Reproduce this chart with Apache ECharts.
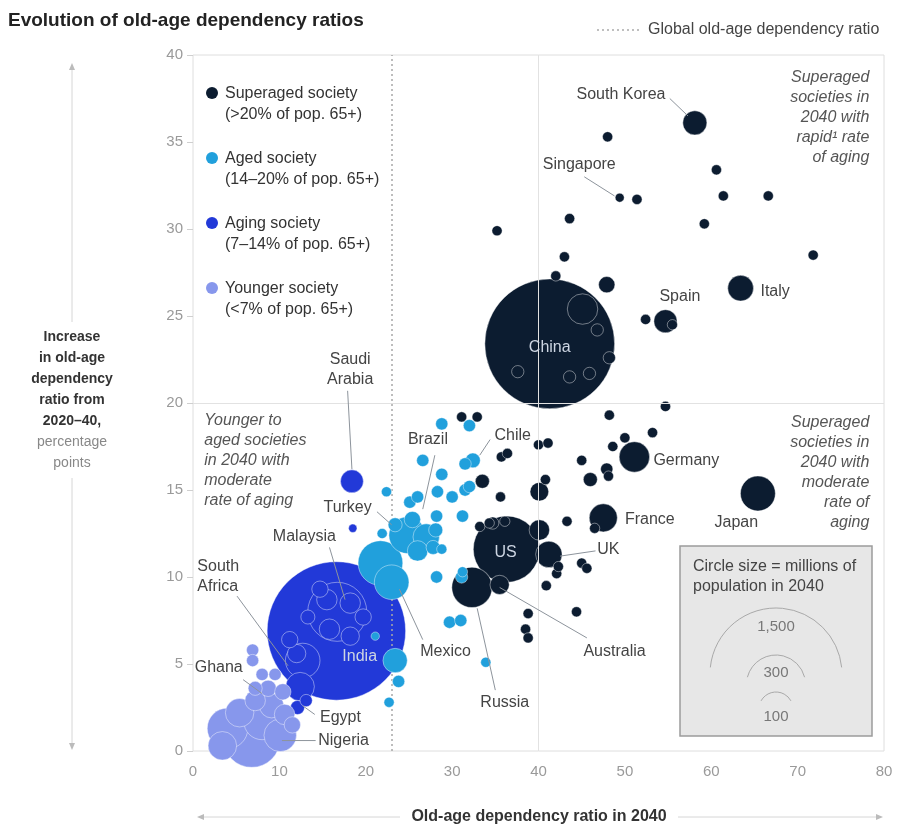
<!DOCTYPE html>
<html>
<head>
<meta charset="utf-8">
<script src="https://cdn.jsdelivr.net/npm/echarts@6/dist/echarts.min.js"></script>
<style>
  html, body { margin: 0; padding: 0; background: #ffffff; }
  #chart { width: 899px; height: 826px; }
</style>
</head>
<body>
<div id="chart"></div>
<script>
// Axis ticks
const xTicks = [0, 10, 20, 30, 40, 50, 60, 70, 80];
const yTicks = [0, 5, 10, 15, 20, 25, 30, 35, 40];
const globalRatio = 23;

// [old-age dependency ratio 2040, increase 2020-40 (pp), population 2040 (m), name]
const superaged = [
  [58.1, 36.1, 50, 'South Korea'], [48.0, 35.3, 9], [60.6, 33.4, 9], [49.4, 31.8, 7, 'Singapore'],
  [51.4, 31.7, 9], [61.4, 31.9, 9], [66.6, 31.9, 9], [35.2, 29.9, 9], [43.6, 30.6, 9],
  [59.2, 30.3, 9], [43.0, 28.4, 9], [71.8, 28.5, 9], [42.0, 27.3, 9], [47.9, 26.8, 23],
  [63.4, 26.6, 57, 'Italy'], [54.7, 24.7, 46, 'Spain'], [52.4, 24.8, 9], [55.5, 24.5, 9],
  [41.3, 23.4, 1450, 'China'], [45.1, 25.4, 80], [46.8, 24.2, 13], [48.2, 22.6, 13],
  [37.6, 21.8, 13], [43.6, 21.5, 13], [45.9, 21.7, 13],
  [54.7, 19.8, 9], [48.2, 19.3, 9], [53.2, 18.3, 9], [50.0, 18.0, 9], [48.6, 17.5, 9],
  [51.1, 16.9, 80, 'Germany'], [45.0, 16.7, 9], [47.9, 16.2, 13], [48.1, 15.8, 9], [46.0, 15.6, 17],
  [47.5, 13.4, 68, 'France'], [46.5, 12.8, 9], [43.3, 13.2, 9], [45.0, 10.8, 9], [45.6, 10.5, 9],
  [44.4, 8.0, 9], [38.8, 7.9, 9], [38.5, 7.0, 9], [38.8, 6.5, 9], [40.9, 9.5, 9],
  [42.1, 10.2, 9], [42.3, 10.6, 9], [41.2, 11.3, 60, 'UK'], [36.3, 11.6, 380, 'US'],
  [32.3, 9.4, 140, 'Russia'], [35.5, 9.55, 32, 'Australia'], [40.1, 12.7, 36],
  [33.2, 12.9, 9], [34.3, 13.1, 9], [35.6, 14.6, 9], [33.5, 15.5, 17], [35.7, 16.9, 9],
  [36.4, 17.1, 9], [31.1, 19.2, 9], [32.9, 19.2, 9], [40.0, 17.6, 9], [41.1, 17.7, 9],
  [40.1, 14.9, 30], [40.8, 15.6, 9], [65.4, 14.8, 105, 'Japan'], [34.7, 13.1, 13], [36.1, 13.2, 9]
];

const aged = [
  [28.8, 18.8, 13], [32.0, 18.7, 13], [26.6, 16.7, 13], [32.4, 16.7, 19, 'Chile'], [31.5, 16.5, 13],
  [28.8, 15.9, 13], [28.3, 14.9, 13], [30.0, 14.6, 13], [31.5, 15.0, 13], [32.0, 15.2, 13],
  [22.4, 14.9, 9], [25.1, 14.3, 13], [26.0, 14.6, 13], [28.2, 13.5, 13], [31.2, 13.5, 13],
  [21.9, 12.5, 9], [28.8, 11.6, 9],
  [21.7, 10.8, 172], [24.8, 12.4, 115, 'Brazil'], [27.0, 12.3, 60, 'Turkey'], [23.0, 9.7, 103, 'Mexico'],
  [26.0, 11.5, 36], [27.8, 11.7, 17], [28.1, 12.7, 17], [25.4, 13.3, 23], [23.4, 13.0, 17],
  [28.2, 10.0, 13], [31.1, 10.0, 13], [29.7, 7.4, 13], [31.0, 7.5, 13], [33.9, 5.1, 9],
  [23.4, 5.2, 51], [23.8, 4.0, 13], [22.7, 2.8, 9], [21.1, 6.6, 6], [31.2, 10.3, 9]
];

const aging = [
  [16.6, 6.9, 1650, 'India'], [16.7, 8.0, 300], [12.7, 5.2, 103], [12.4, 3.7, 70],
  [15.5, 8.7, 36, 'Malaysia'], [18.2, 8.5, 36], [19.7, 7.7, 23], [15.8, 7.0, 36], [18.2, 6.6, 29],
  [13.3, 7.7, 17], [11.2, 6.4, 23, 'South Africa'], [12.0, 5.6, 29], [14.7, 9.3, 23],
  [12.1, 2.5, 17, 'Egypt'], [13.1, 2.9, 13], [18.4, 15.5, 45, 'Saudi Arabia'], [18.5, 12.8, 6]
];

const younger = [
  [6.8, 0.7, 280, 'Nigeria'], [4.0, 1.3, 142], [8.0, 1.7, 115], [10.1, 0.9, 91], [5.4, 2.2, 70],
  [9.1, 2.6, 51], [10.6, 2.1, 36], [7.2, 2.9, 36], [3.4, 0.3, 70], [8.7, 3.6, 23],
  [7.2, 3.6, 17], [8.0, 4.4, 13, 'Ghana'], [9.5, 4.4, 13], [6.9, 5.8, 13], [6.9, 5.2, 13],
  [10.4, 3.4, 23], [11.5, 1.5, 23]
];

// Callout text and leader lines, placed in axis units
const callouts = [
  { text: 'South Korea', at: [54.7, 37.7], align: 'right', line: [[55.2, 37.5], [57.3, 36.5]] },
  { text: 'Singapore', at: [40.5, 33.7], line: [[45.3, 33.0], [48.8, 31.9]] },
  { text: 'Spain', at: [54.0, 26.1] },
  { text: 'Italy', at: [65.7, 26.4] },
  { text: 'China', at: [41.3, 23.2], align: 'center', inside: true },
  { text: 'Germany', at: [53.3, 16.7] },
  { text: 'France', at: [50.0, 13.3] },
  { text: 'Japan', at: [62.9, 13.1], align: 'center' },
  { text: 'UK', at: [46.8, 11.6], line: [[46.6, 11.5], [42.5, 11.2]] },
  { text: 'US', at: [36.2, 11.4], align: 'center', inside: true },
  { text: 'Australia', at: [45.2, 5.7], line: [[45.6, 6.5], [35.5, 9.4]] },
  { text: 'Russia', at: [36.1, 2.8], align: 'center', line: [[35.0, 3.5], [32.9, 8.2]] },
  { text: 'Chile', at: [34.9, 18.1], line: [[34.4, 17.9], [33.2, 17.0]] },
  { text: 'Brazil', at: [27.2, 17.9], align: 'center', line: [[28.0, 17.0], [26.6, 13.9]] },
  { text: 'Turkey', at: [17.9, 14.0], align: 'center', line: [[21.3, 13.75], [23.0, 13.0]] },
  { text: 'Saudi\nArabia', at: [18.2, 21.9], align: 'center', line: [[17.9, 20.7], [18.4, 16.2]] },
  { text: 'Malaysia', at: [12.9, 12.3], align: 'center', line: [[15.8, 11.7], [17.6, 8.7]] },
  { text: 'South\nAfrica', at: [0.5, 10.0], line: [[5.1, 8.9], [11.0, 4.9]] },
  { text: 'Mexico', at: [26.3, 5.7], line: [[26.6, 6.4], [23.9, 9.3]] },
  { text: 'India', at: [19.3, 5.4], align: 'center', inside: true },
  { text: 'Ghana', at: [0.2, 4.8], line: [[5.8, 4.1], [8.0, 3.3]] },
  { text: 'Egypt', at: [14.7, 1.9], line: [[14.1, 2.1], [12.7, 2.6]] },
  { text: 'Nigeria', at: [14.5, 0.6], line: [[14.2, 0.6], [10.3, 0.6]] }
];

const quadrantNotes = [
  { text: 'Superaged\nsocieties in\n2040 with\nrapid\u00b9 rate\nof aging', at: [78.3, 36.4], align: 'right' },
  { text: 'Superaged\nsocieties in\n2040 with\nmoderate\nrate of\naging', at: [78.3, 16.0], align: 'right' },
  { text: 'Younger to\naged societies\nin 2040 with\nmoderate\nrate of aging', at: [1.3, 16.7], align: 'left' }
];

const categories = [
  { name: 'Superaged society', note: '(>20% of pop. 65+)', color: '#0c1c30', data: superaged },
  { name: 'Aged society', note: '(14\u201320% of pop. 65+)', color: '#21a0dc', data: aged },
  { name: 'Aging society', note: '(7\u201314% of pop. 65+)', color: '#2239d8', data: aging },
  { name: 'Younger society', note: '(<7% of pop. 65+)', color: '#8797ec', data: younger }
];
const sizeKey = [1500, 300, 100];

// Bubble radius in px: area proportional to population
const R_MAX = 66;
const radius = pop => R_MAX * Math.sqrt(pop / 1500);

const FONT = '"Liberation Sans", Arial, Helvetica, sans-serif';
const chart = echarts.init(document.getElementById('chart'), null, { renderer: 'canvas' });

const seriesZ = { 'Superaged society': 3, 'Aging society': 4, 'Younger society': 5, 'Aged society': 6 };
const bubbleSeries = categories.map(c => ({
  name: c.name,
  type: 'scatter',
  clip: false,
  z: seriesZ[c.name],
  data: c.data.slice().sort((a, b) => b[2] - a[2]),
  symbolSize: v => 2 * radius(v[2]),
  itemStyle: { color: c.color, borderColor: 'rgba(255,255,255,0.42)', borderWidth: 1, opacity: 1 },
  emphasis: { disabled: true }
}));

const guideSeries = {
  type: 'scatter', data: [], z: 1, silent: true,
  markLine: {
    silent: true, symbol: 'none', animation: false,
    label: { show: false },
    data: [
      { xAxis: 40, lineStyle: { color: '#e2e2e2', width: 1, type: 'solid' } },
      { yAxis: 20, lineStyle: { color: '#e2e2e2', width: 1, type: 'solid' } },
      { xAxis: globalRatio, lineStyle: { color: '#a8a8a8', width: 1.5, type: [2, 3] } }
    ]
  }
};

function textItems(list, style) {
  return {
    type: 'custom', coordinateSystem: 'cartesian2d', silent: true, z: 20, clip: false,
    encode: { x: 0, y: 1 },
    data: list.map((c, i) => [c.at[0], c.at[1], i]),
    renderItem(params, api) {
      const c = list[api.value(2)];
      const p = api.coord(c.at);
      const children = [];
      if (c.line) {
        const a = api.coord(c.line[0]), b = api.coord(c.line[1]);
        children.push({ type: 'line', shape: { x1: a[0], y1: a[1], x2: b[0], y2: b[1] },
          style: { stroke: c.inside ? '#c8d0dc' : '#8d949c', lineWidth: 1 } });
      }
      children.push({ type: 'text', x: p[0], y: p[1],
        style: Object.assign({ text: c.text, align: c.align || 'left', verticalAlign: 'middle' },
          style, c.inside ? { fill: '#cdd5e2' } : {}) });
      return { type: 'group', children };
    }
  };
}

const graphic = [];
// Title
graphic.push({ type: 'text', left: 8, top: 11,
  style: { text: 'Evolution of old-age dependency ratios', font: 'bold 19px ' + FONT, fill: '#222' } });
// Global ratio key
graphic.push({ type: 'line', shape: { x1: 597, y1: 30, x2: 641, y2: 30 },
  style: { stroke: '#aaa', lineWidth: 1.5, lineDash: [2, 3] } });
graphic.push({ type: 'text', x: 648, y: 30,
  style: { text: 'Global old-age dependency ratio', font: '16px ' + FONT, fill: '#444', verticalAlign: 'middle' } });

// Category key
categories.forEach((c, i) => {
  const y = 93 + i * 65;
  graphic.push({ type: 'circle', shape: { cx: 212, cy: y, r: 6 }, style: { fill: c.color }, z: 30 });
  graphic.push({ type: 'text', x: 225, y: y - 10, z: 30,
    style: { text: c.name + '\n' + c.note, font: '16px ' + FONT, fill: '#333', lineHeight: 21, verticalAlign: 'top' } });
});

// Y axis title with arrow rule
graphic.push({ type: 'line', shape: { x1: 72, y1: 68, x2: 72, y2: 322 }, style: { stroke: '#d6d6d6', lineWidth: 1 } });
graphic.push({ type: 'line', shape: { x1: 72, y1: 478, x2: 72, y2: 745 }, style: { stroke: '#d6d6d6', lineWidth: 1 } });
graphic.push({ type: 'polygon', shape: { points: [[72, 63], [69, 70], [75, 70]] }, style: { fill: '#bbb' } });
graphic.push({ type: 'polygon', shape: { points: [[72, 750], [69, 743], [75, 743]] }, style: { fill: '#bbb' } });
graphic.push({ type: 'text', x: 72, y: 327,
  style: { text: 'Increase\nin old-age\ndependency\nratio from\n2020\u201340,', font: 'bold 14px ' + FONT,
    fill: '#333', align: 'center', lineHeight: 21 } });
graphic.push({ type: 'text', x: 72, y: 432,
  style: { text: 'percentage\npoints', font: '14px ' + FONT, fill: '#888', align: 'center', lineHeight: 21 } });

// X axis title with arrow rule
graphic.push({ type: 'line', shape: { x1: 202, y1: 817, x2: 400, y2: 817 }, style: { stroke: '#d6d6d6', lineWidth: 1 } });
graphic.push({ type: 'line', shape: { x1: 678, y1: 817, x2: 878, y2: 817 }, style: { stroke: '#d6d6d6', lineWidth: 1 } });
graphic.push({ type: 'polygon', shape: { points: [[197, 817], [204, 814], [204, 820]] }, style: { fill: '#bbb' } });
graphic.push({ type: 'polygon', shape: { points: [[883, 817], [876, 814], [876, 820]] }, style: { fill: '#bbb' } });
graphic.push({ type: 'text', x: 539, y: 817,
  style: { text: 'Old-age dependency ratio in 2040', font: 'bold 16px ' + FONT, fill: '#333',
    align: 'center', verticalAlign: 'middle' } });

// Bubble size key
graphic.push({ type: 'rect', shape: { x: 680, y: 546, width: 192, height: 190 }, z: 30,
  style: { fill: '#e7e7e7', stroke: '#9c9c9c', lineWidth: 1.5 } });
graphic.push({ type: 'text', x: 693, y: 557, z: 31,
  style: { text: 'Circle size = millions of\npopulation in 2040', font: '16px ' + FONT, fill: '#444', lineHeight: 20 } });
const keyTops = [608, 655, 692];
const keyLabelY = [627, 673, 717];
const keyGap = [0.1, 0.25, 0.5];
sizeKey.forEach((v, i) => {
  const r = radius(v);
  graphic.push({ type: 'arc', z: 31,
    shape: { cx: 776, cy: keyTops[i] + r, r: r, startAngle: Math.PI + keyGap[i], endAngle: 2 * Math.PI - keyGap[i], clockwise: true },
    style: { stroke: '#a9a9a9', lineWidth: 1, fill: null } });
  graphic.push({ type: 'text', x: 776, y: keyLabelY[i], z: 31,
    style: { text: v.toLocaleString('en-US'), font: '15px ' + FONT, fill: '#777', align: 'center', verticalAlign: 'middle' } });
});

const option = {
  animation: false,
  backgroundColor: '#ffffff',
  grid: { left: 193, right: 15, top: 55, bottom: 75, show: true, borderColor: '#dedede', borderWidth: 1, containLabel: false },
  xAxis: {
    type: 'value', min: xTicks[0], max: xTicks[xTicks.length - 1], interval: 10,
    axisLine: { show: false }, axisTick: { show: false }, splitLine: { show: false },
    axisLabel: { color: '#9a9a9a', fontSize: 15, fontFamily: FONT, margin: 13 }
  },
  yAxis: {
    type: 'value', min: yTicks[0], max: yTicks[yTicks.length - 1], interval: 5,
    axisLine: { show: false }, splitLine: { show: false },
    axisTick: { show: true, length: 6, lineStyle: { color: '#cfcfcf' } },
    axisLabel: { color: '#9a9a9a', fontSize: 15, fontFamily: FONT, margin: 10 }
  },
  series: [guideSeries].concat(bubbleSeries, [
    textItems(callouts, { font: '16px ' + FONT, fill: '#444', lineHeight: 20 }),
    textItems(quadrantNotes, { font: 'italic 16px ' + FONT, fill: '#555', lineHeight: 20 })
  ]),
  graphic: graphic
};
chart.setOption(option);
</script>
</body>
</html>
